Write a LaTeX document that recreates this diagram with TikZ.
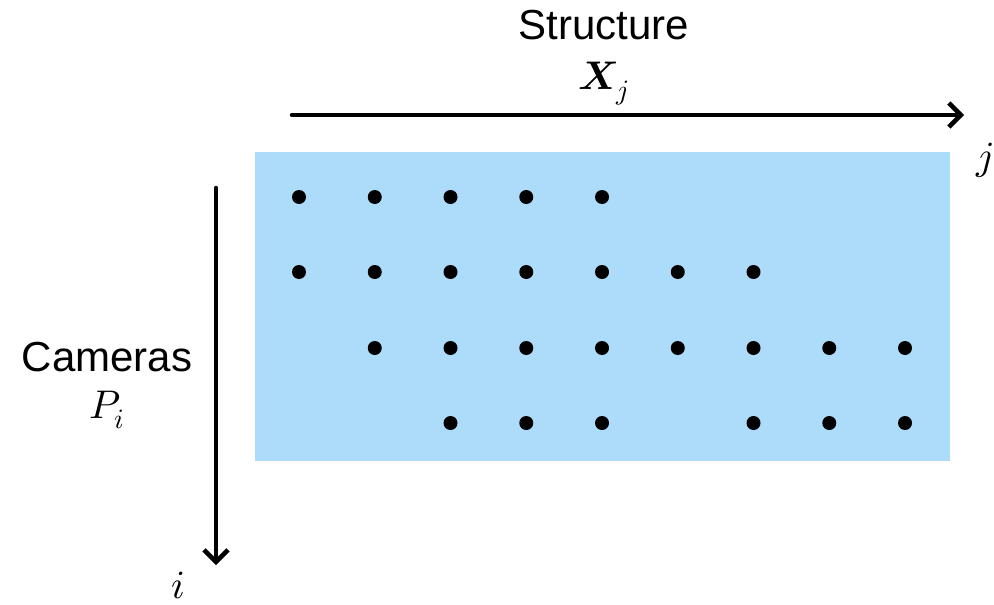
\documentclass[tikz,border=0pt]{standalone}
\usepackage{fontspec}
\usepackage{unicode-math}
\setmainfont{Liberation Sans}
\setmathfont{Latin Modern Math}
\usetikzlibrary{arrows.meta}
\definecolor{matblue}{RGB}{173,220,251}
\tikzset{
  axis/.style={line width=4.5pt, line cap=round, -{Straight Barb[length=12pt,width=24pt,line width=4.5pt]}},
  obs/.style={circle, fill=black, inner sep=0pt, minimum size=14pt},
  lbl/.style={font=\fontsize{42}{48}\selectfont, inner sep=0pt},
  mlbl/.style={font=\fontsize{40}{46}\selectfont, inner sep=0pt}
}
\begin{document}
\begin{tikzpicture}[x=1pt,y=-1pt]
\useasboundingbox (0,0) rectangle (994,605);
\fill[matblue] (255,152) rectangle (950,461);
\coordinate (hs) at (292,115);
\coordinate (he) at (964,115);
\coordinate (vs) at (216,188);
\coordinate (ve) at (216,565);
\draw[axis] (hs) -- (he);
\draw[axis] (vs) -- (ve);
\node[lbl] (struct) at (604,25) {Structure};
\node[mlbl] (xj) at (604,84) {$\symbfit{X}_{j}$};
\node[mlbl] (j) at (985,160) {$j$};
\node[lbl] (cam) at (107,357) {Cameras};
\node[mlbl] (pi) at (107,410) {$P_i$};
\node[mlbl] (i) at (178,585) {$i$};
\foreach \r/\y/\cols in {1/197/{1,2,3,4,5}, 2/272/{1,2,3,4,5,6,7}, 3/348/{2,3,4,5,6,7,8,9}, 4/423/{3,4,5,7,8,9}} {
  \foreach \c in \cols {
    \node[obs] (d\r-\c) at ({299+(\c-1)*75.75},\y) {};
  }
}
\end{tikzpicture}
\end{document}
